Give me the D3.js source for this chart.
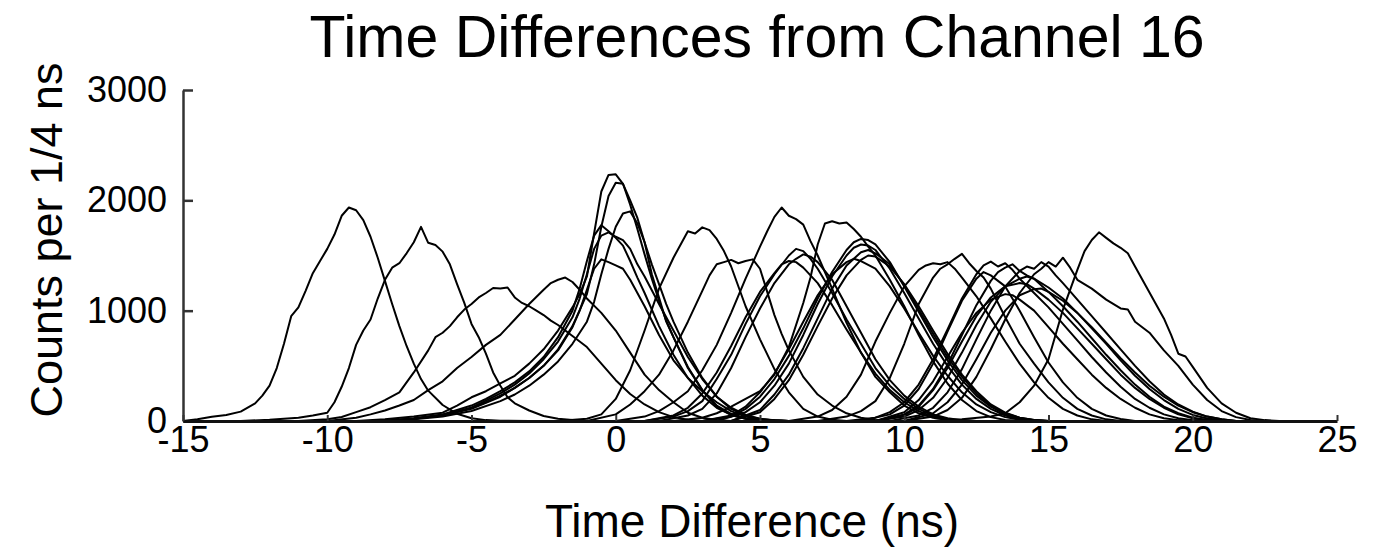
<!DOCTYPE html>
<html>
<head>
<meta charset="utf-8">
<script src="https://cdn.jsdelivr.net/npm/d3@7"></script>
<style>
  html, body { margin: 0; padding: 0; background: #fff; }
  svg { display: block; }
  text { font-family: "Liberation Sans", Arial, Helvetica, sans-serif; fill: #000; }
</style>
</head>
<body>
<svg id="chart" width="1378" height="550"></svg>
<script>
// Histograms of time differences, one trace per channel: [time (ns), counts per 1/4 ns]
const trace01 = [[-15,0],[-14.5,15],[-14,38],[-13.5,55],[-13,85],[-12.5,160],[-12.25,230],[-12,320],[-11.75,480],[-11.5,700],[-11.25,950],[-11,1030],[-10.75,1180],[-10.5,1340],[-10.25,1450],[-10,1560],[-9.75,1690],[-9.5,1860],[-9.25,1935],[-9,1910],[-8.75,1820],[-8.5,1670],[-8.25,1480],[-8,1270],[-7.75,1060],[-7.5,860],[-7.25,680],[-7,520],[-6.75,380],[-6.5,275],[-6,145],[-5.5,65],[-5,25],[-4.5,8],[-4,2],[-3,0]];
const trace02 = [[-13,0],[-12,12],[-11,30],[-10.5,50],[-10,75],[-9.75,170],[-9.5,310],[-9.25,480],[-9,690],[-8.75,820],[-8.5,920],[-8.25,1110],[-8,1280],[-7.75,1390],[-7.5,1430],[-7.25,1520],[-7,1620],[-6.75,1760],[-6.5,1615],[-6.25,1595],[-6,1535],[-5.75,1420],[-5.5,1240],[-5.25,1070],[-5,880],[-4.75,760],[-4.5,610],[-4.25,440],[-4,320],[-3.75,215],[-3.5,160],[-3,95],[-2.5,45],[-2,20],[-1.5,8],[-1,0]];
const trace03 = [[-11,0],[-10,15],[-9.5,36],[-9,80],[-8.5,125],[-8,190],[-7.5,260],[-7,440],[-6.5,640],[-6.25,760],[-6,800],[-5.75,860],[-5.5,940],[-5.25,1010],[-5,1060],[-4.75,1120],[-4.5,1160],[-4.25,1205],[-4,1200],[-3.75,1210],[-3.5,1120],[-3.25,1070],[-3,1040],[-2.75,1000],[-2.5,960],[-2.25,910],[-2,870],[-1.75,820],[-1.5,770],[-1.25,720],[-1,670],[-0.5,520],[0,370],[0.5,245],[1,150],[1.5,80],[2,35],[2.5,12],[3,0]];
const trace04 = [[-10,0],[-9,30],[-8.5,60],[-8,95],[-7.5,140],[-7,190],[-6.5,280],[-6,360],[-5.5,480],[-5,580],[-4.5,690],[-4,780],[-3.5,920],[-3,1060],[-2.5,1190],[-2.25,1250],[-2,1280],[-1.75,1300],[-1.5,1260],[-1.25,1190],[-1,1110],[-0.5,980],[0,820],[0.5,620],[1,420],[1.5,280],[2,170],[2.5,75],[3,30],[3.5,10],[4,0]];
const trace05 = [[-8,0],[-7,25],[-6,60],[-5,140],[-4.5,200],[-4,270],[-3.5,350],[-3,450],[-2.5,580],[-2,760],[-1.5,1000],[-1.25,1200],[-1,1450],[-0.75,1680],[-0.5,1775],[-0.25,1720],[0,1660],[0.25,1590],[0.5,1450],[0.75,1300],[1,1160],[1.5,860],[2,600],[2.5,390],[3,230],[3.5,120],[4,55],[4.5,20],[5,5],[5.5,0]];
const trace06 = [[-8,0],[-7,20],[-6,50],[-5,110],[-4,220],[-3.5,300],[-3,390],[-2.5,500],[-2,640],[-1.5,850],[-1.25,1000],[-1,1190],[-0.75,1380],[-0.5,1465],[-0.25,1440],[0,1410],[0.25,1380],[0.5,1280],[1,1040],[1.5,780],[2,550],[2.5,390],[3,270],[3.5,170],[4,90],[4.5,40],[5,15],[6,0]];
const trace07 = [[-8,0],[-7,20],[-6,55],[-5,120],[-4,250],[-3.5,330],[-3,430],[-2.5,560],[-2,720],[-1.5,940],[-1.25,1110],[-1,1330],[-0.75,1560],[-0.5,1680],[-0.25,1710],[0,1670],[0.25,1640],[0.5,1560],[0.75,1420],[1,1310],[1.5,1060],[2,820],[2.5,580],[3,380],[3.5,220],[4,120],[4.5,55],[5,20],[5.5,6],[6,0]];
const trace08 = [[-9,0],[-8,15],[-7,40],[-6,75],[-5.5,140],[-5,215],[-4.5,270],[-4,340],[-3.5,410],[-3,520],[-2.5,650],[-2,820],[-1.5,1030],[-1.25,1150],[-1,1310],[-0.75,1700],[-0.5,2080],[-0.25,2230],[0,2236],[0.25,2150],[0.5,1960],[0.75,1740],[1,1510],[1.25,1290],[1.5,1090],[1.75,910],[2,760],[2.5,480],[3,280],[3.5,140],[4,65],[4.5,25],[5,8],[6,0]];
const trace09 = [[-8,0],[-7,20],[-6,50],[-5,120],[-4.5,170],[-4,230],[-3.5,300],[-3,390],[-2.5,500],[-2,650],[-1.5,860],[-1,1150],[-0.75,1420],[-0.5,1760],[-0.25,2040],[0,2160],[0.25,2150],[0.5,2000],[0.75,1840],[1,1620],[1.25,1330],[1.5,1120],[1.75,900],[2,760],[2.5,490],[3,280],[3.5,130],[4,55],[4.5,20],[5,5],[6,0]];
const trace10 = [[-8,0],[-7,15],[-6,40],[-5,90],[-4,180],[-3.5,240],[-3,320],[-2.5,420],[-2,540],[-1.5,700],[-1,900],[-0.75,1080],[-0.5,1330],[-0.25,1560],[0,1760],[0.25,1880],[0.5,1900],[0.75,1790],[1,1620],[1.25,1420],[1.5,1240],[1.75,1060],[2,900],[2.5,620],[3,390],[3.5,220],[4,110],[4.5,50],[5,18],[5.5,5],[6,0]];
const trace11 = [[-2,0],[-1,20],[-0.5,60],[0,200],[0.5,460],[1,820],[1.5,1200],[2,1480],[2.25,1600],[2.5,1720],[2.75,1700],[3,1755],[3.25,1730],[3.5,1650],[3.75,1540],[4,1400],[4.5,1040],[5,740],[5.5,470],[6,260],[6.5,110],[7,40],[7.5,12],[8,0]];
const trace12 = [[-1,0],[0,60],[0.5,150],[1,270],[1.5,420],[2,640],[2.5,900],[3,1180],[3.25,1320],[3.5,1420],[3.75,1440],[4,1460],[4.25,1430],[4.5,1450],[4.75,1465],[5,1380],[5.25,1170],[5.5,960],[5.75,790],[6,640],[6.5,400],[7,240],[7.5,140],[8,70],[8.5,30],[9,10],[9.5,0]];
const trace13 = [[0,0],[1,40],[1.5,90],[2,170],[2.5,270],[3,460],[3.5,690],[4,980],[4.5,1290],[5,1580],[5.25,1720],[5.5,1850],[5.75,1935],[6,1860],[6.25,1830],[6.5,1780],[6.75,1630],[7,1500],[7.5,1200],[8,890],[8.5,620],[9,400],[9.5,260],[10,140],[10.5,70],[11,30],[11.5,10],[12,0]];
const trace14 = [[1,0],[2,50],[2.5,120],[3,250],[3.5,440],[4,680],[4.5,940],[5,1170],[5.5,1340],[5.75,1420],[6,1450],[6.25,1440],[6.5,1390],[7,1250],[7.5,1050],[8,830],[8.5,620],[9,430],[9.5,280],[10,170],[10.5,90],[11,40],[11.5,15],[12,0]];
const trace15 = [[1,0],[2,40],[2.5,90],[3,180],[3.5,380],[4,600],[4.5,880],[5,1130],[5.5,1330],[6,1500],[6.25,1560],[6.5,1540],[6.75,1470],[7,1380],[7.5,1160],[8,920],[8.5,700],[9,480],[9.5,320],[10,200],[10.5,110],[11,50],[11.5,20],[12,5],[12.5,0]];
const trace16 = [[1.5,0],[2.5,50],[3,110],[3.5,250],[4,480],[4.5,760],[5,1020],[5.5,1250],[6,1420],[6.25,1470],[6.5,1510],[6.75,1490],[7,1440],[7.5,1280],[8,1040],[8.5,800],[9,560],[9.5,370],[10,230],[10.5,130],[11,60],[11.5,25],[12,8],[12.5,0]];
const trace17 = [[2,0],[3,30],[3.5,70],[4,130],[4.5,200],[5,270],[5.5,420],[6,670],[6.5,1070],[6.75,1300],[7,1600],[7.25,1790],[7.5,1810],[7.75,1790],[8,1800],[8.25,1740],[8.5,1670],[8.75,1580],[9,1500],[9.5,1280],[10,1040],[10.5,780],[11,540],[11.5,340],[12,190],[12.5,90],[13,35],[13.5,10],[14,0]];
const trace18 = [[3,0],[4,50],[4.5,130],[5,260],[5.5,430],[6,650],[6.5,900],[7,1140],[7.5,1330],[8,1440],[8.25,1470],[8.5,1450],[9,1380],[9.5,1220],[10,1020],[10.5,800],[11,590],[11.5,410],[12,260],[12.5,150],[13,80],[13.5,35],[14,12],[14.5,0]];
const trace19 = [[3.5,0],[4.5,80],[5,170],[5.5,320],[6,520],[6.5,780],[7,1060],[7.5,1310],[8,1500],[8.25,1570],[8.5,1600],[8.75,1590],[9,1550],[9.5,1380],[10,1160],[10.5,930],[11,700],[11.5,500],[12,330],[12.5,200],[13,110],[13.5,50],[14,20],[14.5,5],[15,0]];
const trace20 = [[3,0],[4,40],[4.5,110],[5,220],[5.5,380],[6,590],[6.5,840],[7,1110],[7.5,1350],[8,1550],[8.25,1620],[8.5,1650],[8.75,1640],[9,1600],[9.5,1440],[10,1220],[10.5,990],[11,760],[11.5,550],[12,370],[12.5,230],[13,130],[13.5,60],[14,25],[14.5,8],[15,0]];
const trace21 = [[4,0],[5,100],[5.5,240],[6,420],[6.5,660],[7,930],[7.5,1200],[8,1410],[8.5,1530],[8.75,1550],[9,1520],[9.5,1420],[10,1230],[10.5,1010],[11,790],[11.5,580],[12,400],[12.5,250],[13,140],[13.5,70],[14,30],[14.5,10],[15,0]];
const trace22 = [[4,0],[5,80],[5.5,200],[6,370],[6.5,600],[7,860],[7.5,1110],[8,1320],[8.5,1460],[8.75,1500],[9,1490],[9.5,1400],[10,1240],[10.5,1040],[11,820],[11.5,610],[12,420],[12.5,270],[13,150],[13.5,75],[14,30],[14.5,10],[15,0]];
const trace23 = [[6,0],[7,40],[7.5,100],[8,220],[8.5,420],[9,720],[9.5,980],[10,1220],[10.5,1370],[10.75,1410],[11,1430],[11.25,1420],[11.5,1440],[11.75,1380],[12,1300],[12.5,1130],[13,930],[13.5,720],[14,520],[14.5,350],[15,210],[15.5,110],[16,50],[16.5,15],[17,0]];
const trace24 = [[7,0],[8,40],[8.5,90],[9,180],[9.5,390],[10,700],[10.5,1060],[11,1300],[11.25,1380],[11.5,1420],[11.75,1470],[12,1515],[12.25,1430],[12.5,1360],[12.75,1300],[13,1200],[13.5,940],[14,700],[14.5,520],[15,350],[15.5,210],[16,110],[16.5,50],[17,15],[17.5,0]];
const trace25 = [[8.5,0],[9.5,60],[10,140],[10.5,290],[11,520],[11.5,810],[12,1090],[12.5,1290],[12.75,1350],[13,1320],[13.5,1220],[14,1000],[14.5,760],[15,530],[15.5,350],[16,210],[16.5,110],[17,50],[17.5,18],[18,0]];
const trace26 = [[8,0],[9,30],[9.5,80],[10,170],[10.5,330],[11,560],[11.5,830],[12,1110],[12.5,1330],[12.75,1410],[13,1445],[13.25,1400],[13.5,1430],[13.75,1370],[14,1290],[14.5,1160],[15,1030],[15.5,880],[16,730],[16.5,580],[17,440],[17.5,310],[18,200],[18.5,120],[19,60],[19.5,25],[20,8],[20.5,0]];
const trace27 = [[9,0],[10,80],[10.5,190],[11,360],[11.5,580],[12,800],[12.5,980],[13,1100],[13.5,1150],[13.75,1140],[14,1100],[14.5,1000],[15,850],[15.5,700],[16,560],[16.5,420],[17,300],[17.5,200],[18,120],[18.5,60],[19,25],[19.5,8],[20,0]];
const trace28 = [[9,0],[10,60],[10.5,140],[11,290],[11.5,510],[12,780],[12.5,1050],[13,1270],[13.25,1350],[13.5,1390],[13.75,1420],[14,1360],[14.25,1320],[14.5,1290],[15,1170],[15.5,1040],[16,900],[16.5,750],[17,600],[17.5,460],[18,330],[18.5,220],[19,130],[19.5,70],[20,30],[20.5,10],[21,0]];
const trace29 = [[9,0],[10,50],[10.5,130],[11,280],[11.5,480],[12,720],[12.5,950],[13,1120],[13.5,1220],[14,1250],[14.25,1240],[14.5,1200],[15,1100],[15.5,980],[16,840],[16.5,700],[17,560],[17.5,420],[18,300],[18.5,200],[19,120],[19.5,60],[20,25],[20.5,8],[21,0]];
const trace30 = [[9,0],[10,40],[10.5,100],[11,210],[11.5,390],[12,620],[12.5,870],[13,1080],[13.5,1220],[14,1290],[14.25,1310],[14.5,1290],[15,1210],[15.5,1110],[16,980],[16.5,840],[17,700],[17.5,550],[18,410],[18.5,290],[19,190],[19.5,110],[20,55],[20.5,22],[21,6],[21.5,0]];
const trace31 = [[10,0],[11,70],[11.5,170],[12,330],[12.5,560],[13,800],[13.5,1000],[14,1140],[14.5,1195],[14.75,1200],[15,1170],[15.5,1090],[16,980],[16.5,850],[17,710],[17.5,570],[18,440],[18.5,320],[19,220],[19.5,140],[20,80],[20.5,40],[21,15],[21.5,0]];
const trace32 = [[9.5,0],[10.5,50],[11,120],[11.5,260],[12,470],[12.5,740],[13,1000],[13.5,1220],[14,1360],[14.25,1400],[14.5,1380],[14.75,1440],[15,1400],[15.25,1320],[15.5,1250],[16,1100],[16.5,950],[17,800],[17.5,650],[18,500],[18.5,360],[19,240],[19.5,150],[20,85],[20.5,40],[21,15],[21.5,0]];
const trace33 = [[10,0],[11,40],[11.5,100],[12,210],[12.5,400],[13,650],[13.5,920],[14,1160],[14.5,1330],[14.75,1380],[15,1440],[15.25,1400],[15.5,1480],[15.75,1390],[16,1280],[16.5,1200],[17,1100],[17.5,1020],[17.75,1010],[18,900],[18.5,800],[19,640],[19.5,500],[20,330],[20.5,190],[21,90],[21.5,35],[22,10],[22.5,0]];
const trace34 = [[11,0],[12,15],[13,40],[13.5,70],[14,170],[14.5,320],[15,560],[15.5,1010],[16,1370],[16.25,1540],[16.5,1640],[16.75,1710],[17,1660],[17.25,1610],[17.5,1570],[17.75,1520],[18,1400],[18.5,1165],[19,930],[19.25,780],[19.5,610],[19.75,585],[20,490],[20.5,300],[21,160],[21.5,75],[22,25],[22.5,8],[23,0]];

const traces = [trace01, trace02, trace03, trace04, trace05, trace06, trace07, trace08, trace09, trace10,
  trace11, trace12, trace13, trace14, trace15, trace16, trace17, trace18, trace19, trace20,
  trace21, trace22, trace23, trace24, trace25, trace26, trace27, trace28, trace29, trace30,
  trace31, trace32, trace33, trace34];

const xTicks = [-15, -10, -5, 0, 5, 10, 15, 20, 25];
const yTicks = [0, 1000, 2000, 3000];

const titleText = "Time Differences from Channel 16";
const xLabel = "Time Difference (ns)";
const yLabel = "Counts per 1/4 ns";

const svg = d3.select("#chart");

const x = d3.scaleLinear().domain([-15, 25]).range([183, 1337]);
const y = d3.scaleLinear().domain([0, 3000]).range([421, 90]);

// plain hyphen for negative tick values
const tickText = d => String(d);

// traces
const line = d3.line().x(d => x(d[0])).y(d => y(d[1]));
svg.append("g")
  .selectAll("path")
  .data(traces)
  .join("path")
  .attr("d", line)
  .attr("fill", "none")
  .attr("stroke", "#000")
  .attr("stroke-width", 2)
  .attr("stroke-linejoin", "round");

// y axis, ticks pointing inward
const yAxis = svg.append("g")
  .attr("transform", `translate(${x(-15)},0)`)
  .call(d3.axisLeft(y).tickValues(yTicks).tickSize(-10).tickSizeOuter(0).tickPadding(16).tickFormat(tickText));
yAxis.select(".domain").attr("stroke", "#333").attr("stroke-width", 2.5);
yAxis.selectAll(".tick line").attr("stroke", "#333").attr("stroke-width", 2.5);
yAxis.selectAll("text").style("font-size", "36px").attr("fill", "#111");

// x axis, ticks pointing inward
const xAxis = svg.append("g")
  .attr("transform", `translate(0,${y(0)})`)
  .call(d3.axisBottom(x).tickValues(xTicks).tickSize(-6).tickSizeOuter(0).tickPadding(5).tickFormat(tickText));
xAxis.select(".domain").attr("stroke", "#111").attr("stroke-width", 3);
xAxis.selectAll(".tick line").attr("stroke", "#333").attr("stroke-width", 2);
xAxis.selectAll("text").style("font-size", "36px").attr("fill", "#111");

// title and axis labels
svg.append("text")
  .attr("x", 757).attr("y", 57)
  .attr("text-anchor", "middle")
  .style("font-size", "59px")
  .text(titleText);

svg.append("text")
  .attr("x", 752).attr("y", 537)
  .attr("text-anchor", "middle")
  .style("font-size", "46px")
  .text(xLabel);

svg.append("text")
  .attr("transform", "translate(62,240) rotate(-90)")
  .attr("text-anchor", "middle")
  .style("font-size", "45px")
  .text(yLabel);
</script>
</body>
</html>
